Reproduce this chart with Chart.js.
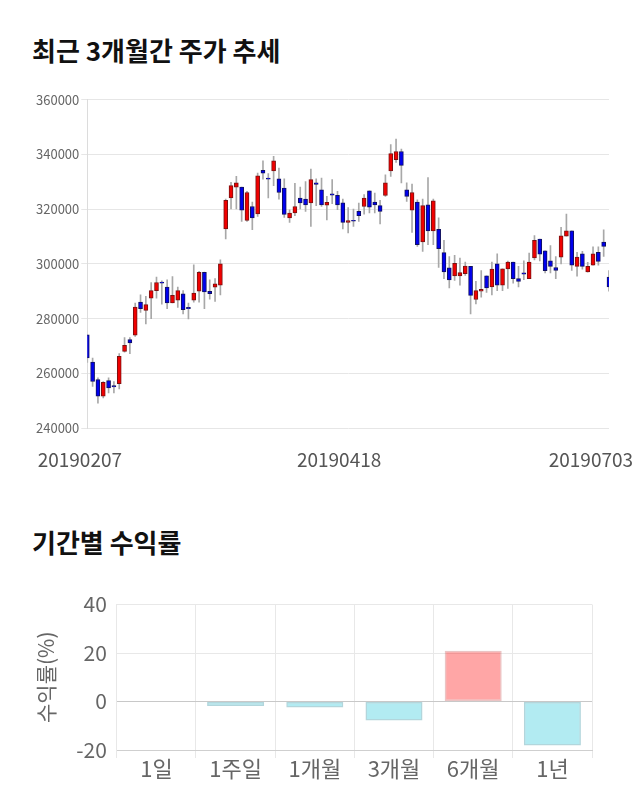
<!DOCTYPE html>
<html>
<head>
<meta charset="utf-8">
<script src="https://cdn.jsdelivr.net/npm/chart.js@4.4.0/dist/chart.umd.min.js"></script>
<style>
    body { margin: 0; background: #fff; width: 640px; height: 810px; position: relative; overflow: hidden; font-family: 'Noto Sans CJK KR', sans-serif; }
    h2 { position: absolute; left: 32px; margin: 0; font-size: 26px; line-height: 26px; font-weight: 700; color: #111; }
    #t1 { top: 37px; }
    #t2 { top: 529px; }
    .box { position: absolute; left: 0; width: 640px; }
    #b1 { top: 90px; height: 390px; }
    #b2 { top: 584px; height: 196px; }
</style>
</head>
<body>
<h2 id="t1">최근 3개월간 주가 추세</h2>
<div class="box" id="b1"><canvas id="priceChart"></canvas></div>
<h2 id="t2">기간별 수익률</h2>
<div class="box" id="b2"><canvas id="returnChart"></canvas></div>

<script>
// daily candles, 2019-02-07 .. 2019-07-03
const open = [
    274100, 264100, 257700, 251600, 257300, 255500, 256200, 268000, 272300, 273900,
    286000, 283000, 287500, 290200, 293300, 291500, 285700, 286700, 289100, 284100,
    286700, 290000, 296900, 290000, 291500, 292200, 312800, 324100, 328100, 328100,
    315900, 321000, 318300, 334200, 331300, 334000, 331100, 327700, 316800, 318600,
    324100, 323700, 322300, 329600, 327100, 321500, 325600, 325100, 322300, 315200,
    315800, 319200, 321000, 326700, 322600, 321300, 325000, 334000, 338100, 341100,
    327100, 319600, 322600, 308000, 321600, 312100, 312600, 304100, 298600, 295600,
    295600, 296400, 299100, 287000, 290000, 295600, 291600, 300000, 292200, 298200,
    300700, 294600, 296700, 294600, 302200, 309100, 304800, 301100, 298700, 302500,
    310100, 312100, 299100, 303700, 297100, 299500, 304200, 308000, 295200
];
const high = [
    274100, 265600, 258300, 257000, 258300, 257000, 267200, 273100, 273100, 285700,
    288700, 288100, 293200, 295200, 293800, 294200, 295400, 291500, 290200, 285700,
    299700, 297300, 297000, 294200, 294600, 301500, 323700, 329800, 332000, 328100,
    326500, 322600, 333200, 337700, 333000, 339300, 335000, 331100, 319800, 329500,
    328100, 330100, 334700, 331100, 331400, 324700, 330800, 326500, 323700, 320600,
    320000, 322200, 325300, 326700, 325900, 323200, 332600, 343600, 345600, 342000,
    329600, 329200, 323400, 323700, 331600, 323700, 316800, 308600, 302700, 303100,
    302100, 300700, 299100, 293600, 297600, 295600, 300700, 303700, 298200, 301000,
    300700, 299100, 301100, 304000, 310400, 309100, 304800, 306700, 302700, 313400,
    318200, 312100, 304200, 304600, 300600, 306200, 306200, 312500, 297600
];
const low = [
    264000, 255200, 249100, 251000, 252800, 252800, 254300, 267700, 267200, 273500,
    282300, 278100, 280000, 287500, 285300, 283600, 285700, 284100, 281700, 279900,
    286000, 286000, 283600, 287100, 286300, 288700, 309100, 320100, 320100, 315500,
    315500, 312500, 317400, 331000, 324100, 328600, 323700, 317000, 315200, 317600,
    320100, 319200, 313700, 321300, 321000, 316100, 322000, 319800, 312800, 311300,
    313700, 315500, 318200, 318600, 318600, 314600, 324700, 332000, 337100, 329600,
    322800, 311500, 306400, 304600, 307000, 307000, 298700, 294600, 291200, 294000,
    292200, 295800, 281700, 285400, 287800, 289600, 288700, 290200, 290200, 291000,
    293000, 291600, 294200, 294600, 301500, 301100, 296700, 296700, 294600, 300000,
    310100, 297600, 295500, 298100, 297000, 299500, 299500, 302700, 290000
];
const close = [
    265600, 257000, 251600, 256700, 254700, 255000, 266200, 270200, 271100, 284200,
    283600, 285100, 290200, 293200, 293000, 285700, 288500, 290200, 283300, 283600,
    289300, 296900, 289800, 289100, 292700, 300000, 323200, 328600, 329600, 319600,
    326100, 316800, 332200, 333200, 331000, 337700, 326100, 318100, 318600, 321000,
    322300, 321600, 330800, 329100, 321600, 322500, 325100, 321600, 315200, 315800,
    315600, 317600, 324100, 320700, 321600, 319200, 329600, 340300, 341100, 336000,
    324700, 326100, 307000, 321300, 312100, 323100, 305600, 297100, 294100, 300200,
    296800, 299200, 288500, 290200, 290700, 291200, 298100, 292200, 298200, 300700,
    294600, 293600, 296200, 300700, 308600, 303600, 297500, 299100, 297600, 310300,
    312100, 299500, 302500, 299100, 299100, 303700, 300900, 306400, 291600
];

// date labels under the price chart, and where each sits on the candle index axis
const dateLabels = ['20190207', '20190418', '20190703'];
const dateLabelAt = [-1.4, 47.3, 94.6];

// period returns
const periods = ['1일', '1주일', '1개월', '3개월', '6개월', '1년'];
const returns = [0, -1.9, -2.5, -7.8, 20.9, -18.1];

const wicks = low.map((l, i) => ({ x: i, y: [l, high[i]] }));
const bodies = open.map((o, i) => ({ x: i, y: [o, close[i]] }));
const bodyColors = open.map((o, i) => close[i] >= o ? '#f00000' : '#0000ee');
const bodyBorders = open.map((o, i) => close[i] >= o ? '#7a1010' : '#101060');

// draws the date labels under the candles, placed with the x scale
const dateTicks = {
    id: 'dateTicks',
    afterDraw(chart) {
        const { ctx, chartArea } = chart;
        const x = chart.scales.x;
        ctx.save();
        ctx.font = "19px 'Noto Sans CJK KR', sans-serif";
        ctx.fillStyle = '#555';
        ctx.textAlign = 'center';
        ctx.textBaseline = 'middle';
        dateLabels.forEach((t, i) => {
            ctx.fillText(t, x.getPixelForValue(dateLabelAt[i]), chartArea.bottom + 32);
        });
        ctx.restore();
    }
};

new Chart(document.getElementById('priceChart'), {
    type: 'bar',
    data: {
        datasets: [
            {
                data: bodies,
                backgroundColor: bodyColors,
                borderColor: bodyBorders,
                borderWidth: 1,
                borderSkipped: false,
                barThickness: 4,
                minBarLength: 1,
                grouped: false,
                clip: 0,
                order: 1
            },
            {
                data: wicks,
                backgroundColor: '#a8a8a8',
                borderWidth: 0,
                barThickness: 1,
                grouped: false,
                clip: 0,
                order: 2
            }
        ]
    },
    options: {
        responsive: true,
        maintainAspectRatio: false,
        animation: false,
        layout: { padding: { left: 34, right: 31, top: 0, bottom: 52 } },
        plugins: { legend: { display: false }, tooltip: { enabled: false } },
        scales: {
            x: {
                type: 'linear',
                display: false,
                min: 0,
                max: open.length - 1,
                offset: false
            },
            y: {
                min: 240000,
                max: 360000,
                grid: { color: '#e6e6e6', tickLength: 6 },
                border: { color: '#dcdcdc' },
                ticks: {
                    stepSize: 20000,
                    padding: 2,
                    color: '#666',
                    font: { family: "'Noto Sans CJK KR', sans-serif", size: 13 },
                    callback: (v) => String(v)
                }
            }
        }
    },
    plugins: [dateTicks]
});

new Chart(document.getElementById('returnChart'), {
    type: 'bar',
    data: {
        labels: periods,
        datasets: [{
            data: returns,
            backgroundColor: returns.map(v => v >= 0 ? 'rgba(255,0,0,0.35)' : 'rgba(0,188,212,0.3)'),
            borderColor: returns.map(v => v >= 0 ? 'rgba(190,60,60,0.3)' : 'rgba(0,120,140,0.3)'),
            borderWidth: 1.5,
            borderSkipped: false
        }]
    },
    options: {
        responsive: true,
        maintainAspectRatio: false,
        animation: false,
        layout: { padding: { left: 25, right: 48, top: 0, bottom: 0 } },
        plugins: { legend: { display: false }, tooltip: { enabled: false } },
        scales: {
            x: {
                grid: { color: '#e8e8e8', tickLength: 8 },
                border: { color: '#cfcfcf' },
                ticks: {
                    padding: 0,
                    color: '#666',
                    font: { family: "'Noto Sans CJK KR', sans-serif", size: 22, lineHeight: 1 }
                }
            },
            y: {
                min: -20,
                max: 40,
                grid: {
                    drawTicks: false,
                    color: (c) => c.tick && c.tick.value === 0 ? '#c8c8c8' : '#e8e8e8'
                },
                border: { color: '#e8e8e8' },
                title: {
                    display: true,
                    text: '수익률(%)',
                    color: '#666',
                    padding: { top: 8, bottom: 8 },
                    font: { family: "'Noto Sans CJK KR', sans-serif", size: 21 }
                },
                ticks: {
                    stepSize: 20,
                    padding: 10,
                    color: '#666',
                    font: { family: "'Noto Sans CJK KR', sans-serif", size: 21, lineHeight: 1 }
                }
            }
        }
    }
});
</script>
</body>
</html>
